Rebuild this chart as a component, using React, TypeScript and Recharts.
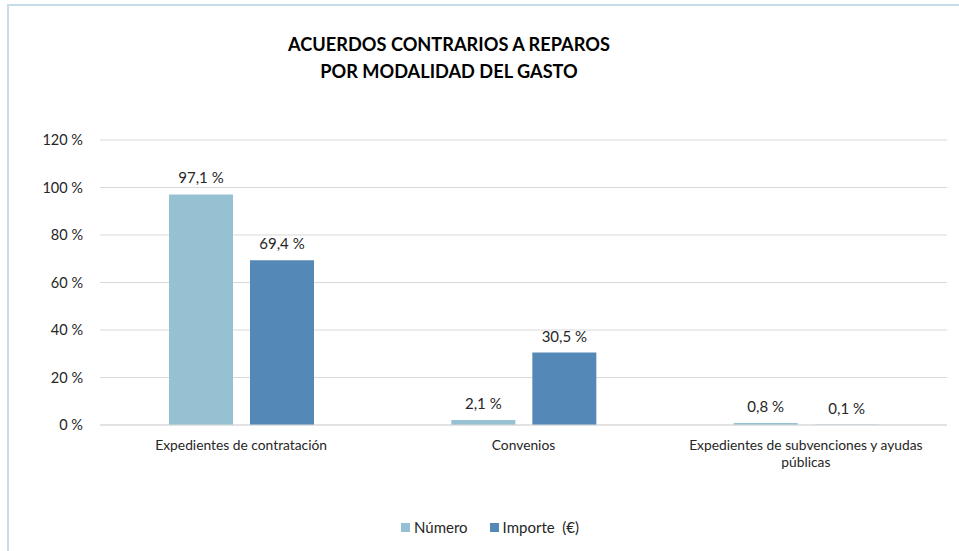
import React from "react"
import { BarChart, Bar, XAxis, YAxis, CartesianGrid, Legend, LabelList } from "recharts"

const categories = [
  "Expedientes de contratación",
  "Convenios",
  "Expedientes de subvenciones y ayudas\npúblicas",
]
const numero = [97.1, 2.1, 0.8]
const importe = [69.4, 30.5, 0.1]
const yTicks = [0, 20, 40, 60, 80, 100, 120]
const titleLines = ["ACUERDOS CONTRARIOS A REPAROS", "POR MODALIDAD DEL GASTO"]
const seriesNames = ["Número", "Importe\u00a0 (€)"]

const data = categories.map((name, i) => ({ name, numero: numero[i], importe: importe[i] }))

const FONT = "Lato, 'Noto Sans', sans-serif"
const C_NUM = "#96c1d2"
const C_IMP = "#5488b7"

const pct = (v: number) => `${v.toFixed(1).replace(".", ",")} %`

function CategoryTick({ x, y, payload }: any) {
  const lines = String(payload.value).split("\n")
  return (
    <text x={x} y={y} textAnchor="middle" fontFamily={FONT} fontSize={13.8} fill="#262626">
      {lines.map((l, i) => (
        <tspan key={i} x={x} dy={i === 0 ? 17 : 17}>
          {l}
        </tspan>
      ))}
    </text>
  )
}

function LegendContent() {
  const colors = [C_NUM, C_IMP]
  return (
    <div style={{ display: "flex", justifyContent: "center", fontFamily: FONT, fontSize: 15, color: "#262626" }}>
      {seriesNames.map((n, i) => (
        <div key={n} style={{ display: "flex", alignItems: "center", marginLeft: i ? 22 : 0 }}>
          <span style={{ width: 9, height: 9, background: colors[i], marginRight: 4, display: "inline-block" }} />
          <span style={{ whiteSpace: "pre" }}>{n}</span>
        </div>
      ))}
    </div>
  )
}

export default function App() {
  return (
    <div style={{ position: "absolute", left: 0, top: 0, width: 959, height: 551, overflow: "hidden", background: "#fff" }}>
      <div
        style={{
          position: "absolute",
          left: 7,
          top: 4,
          width: 1000,
          height: 600,
          border: "2px solid #c6dce8",
          boxSizing: "border-box",
        }}
      />
      <div
        style={{
          position: "absolute",
          left: 0,
          top: 31,
          width: 898,
          textAlign: "center",
          fontFamily: FONT,
          fontWeight: 700,
          fontSize: 18.2,
          lineHeight: "27px",
          color: "#000",
        }}
      >
        {titleLines.map((t) => (
          <div key={t}>{t}</div>
        ))}
      </div>
      <BarChart
        width={959}
        height={551}
        data={data}
        margin={{ top: 140, right: 12, bottom: 96, left: 0 }}
        barSize={64}
        barGap={17}
        style={{ position: "absolute", left: 0, top: 0 }}
      >
        <CartesianGrid vertical={false} stroke="#d9d9d9" strokeWidth={1} />
        <XAxis
          dataKey="name"
          height={30}
          axisLine={{ stroke: "#d9d9d9" }}
          tickLine={false}
          tick={<CategoryTick />}
          interval={0}
        />
        <YAxis
          width={100}
          domain={[0, 120]}
          ticks={yTicks}
          axisLine={false}
          tickLine={false}
          tickMargin={11}
          tickFormatter={(v: number) => `${v} %`}
          tick={{ fontFamily: FONT, fontSize: 14.5, fill: "#262626" }}
        />
        <Legend
          layout="horizontal"
          verticalAlign="middle"
          align="center"
          wrapperStyle={{ top: 518, left: 0, width: 980 }}
          content={<LegendContent />}
        />
        <Bar dataKey="numero" fill={C_NUM} isAnimationActive={false}>
          <LabelList
            dataKey="numero"
            position="top"
            offset={11}
            formatter={(v: any) => pct(Number(v))}
            style={{ fontFamily: FONT, fontSize: 15, fill: "#262626" }}
          />
        </Bar>
        <Bar dataKey="importe" fill={C_IMP} isAnimationActive={false}>
          <LabelList
            dataKey="importe"
            position="top"
            offset={11}
            formatter={(v: any) => pct(Number(v))}
            style={{ fontFamily: FONT, fontSize: 15, fill: "#262626" }}
          />
        </Bar>
      </BarChart>
    </div>
  )
}
